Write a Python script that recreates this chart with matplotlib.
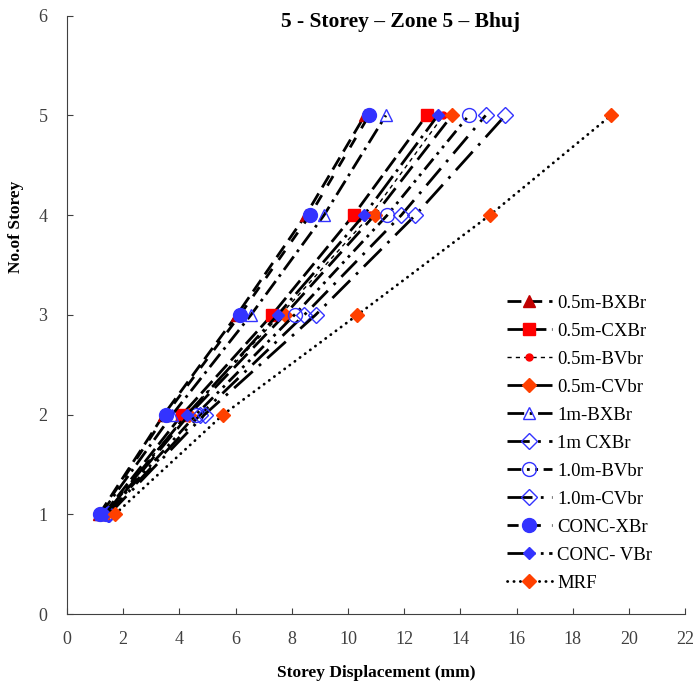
import matplotlib
matplotlib.use('Agg')
import matplotlib.pyplot as plt

plt.rcParams['font.family'] = ['Liberation Serif', 'DejaVu Serif']

# storey levels and displacements (mm) for each bracing case
storeys = [1, 2, 3, 4, 5]
disp_05_bxbr = [1.15, 3.45, 6.05, 8.5, 10.6]
disp_05_cxbr = [1.3, 4.1, 7.3, 10.2, 12.8]
disp_05_bvbr = [1.35, 4.25, 7.6, 10.8, 13.4]
disp_05_cvbr = [1.4, 4.35, 7.75, 10.95, 13.7]
disp_1_bxbr = [1.2, 3.75, 6.55, 9.15, 11.35]
disp_1_cxbr = [1.45, 4.75, 8.45, 11.9, 14.9]
disp_1_bvbr = [1.4, 4.6, 8.1, 11.4, 14.3]
disp_1_cvbr = [1.5, 4.9, 8.85, 12.4, 15.6]
disp_conc_xbr = [1.17, 3.52, 6.16, 8.65, 10.75]
disp_conc_vbr = [1.35, 4.27, 7.5, 10.57, 13.2]
disp_mrf = [1.71, 5.56, 10.34, 15.05, 19.36]

x_ticks = list(range(0, 23, 2))
y_ticks = list(range(0, 7))

blue = '#3333FF'
red = '#FF0000'
orange = '#FF4000'
darkred = '#C00000'

long_dash = (0, (5, 2.5))
long_dash_dot = (0, (6, 2, 1, 2))
dash_dot_dot = (0, (5, 2, 1, 2, 1, 2))

series = [
    ('0.5m-BXBr', disp_05_bxbr, dict(ls=long_dash, marker='^', ms=8, mfc=darkred, mec=darkred)),
    ('0.5m-CXBr', disp_05_cxbr, dict(ls=(0, (6, 2)), marker='s', ms=9, mfc=red, mec=red)),
    ('0.5m-BVbr', disp_05_bvbr, dict(ls=(0, (3, 3)), lw=1.0, marker='o', ms=5, mfc=red, mec=red)),
    ('0.5m-CVbr', disp_05_cvbr, dict(ls=(0, (7, 3)), marker='D', ms=7, mfc=orange, mec=orange)),
    ('1m-BXBr', disp_1_bxbr, dict(ls=long_dash_dot, marker='^', ms=9, mfc='none', mec=blue)),
    ('1m CXBr', disp_1_cxbr, dict(ls=(0, (8, 3, 1, 3)), marker='D', ms=8, mfc='none', mec=blue)),
    ('1.0m-BVbr', disp_1_bvbr, dict(ls=dash_dot_dot, marker='o', ms=10, mfc='none', mec=blue)),
    ('1.0m-CVbr', disp_1_cvbr, dict(ls=(0, (9, 3, 1, 3)), marker='D', ms=8, mfc='none', mec=blue)),
    ('CONC-XBr', disp_conc_xbr, dict(ls=(0, (4, 4)), marker='o', ms=10, mfc=blue, mec=blue)),
    ('CONC- VBr', disp_conc_vbr, dict(ls=(0, (10, 2, 1, 2)), marker='D', ms=6.5, mfc=blue, mec=blue)),
    ('MRF', disp_mrf, dict(ls=(0, (0.1, 2.2)), dash_capstyle='round', marker='D', ms=7, mfc=orange, mec=orange)),
]

fig = plt.figure(figsize=(6.97, 6.83), dpi=100)
ax = fig.add_axes([0.096, 0.101, 0.887, 0.876])

for label, disp, style in series:
    kw = dict(color='black', lw=2.0)
    kw.update(style)
    ax.plot(disp, storeys, label=label, **kw)

ax.set_xlim(0, 22)
ax.set_ylim(0, 6)
ax.set_xticks(x_ticks)
ax.set_yticks(y_ticks)
ax.tick_params(direction='in', length=4, labelsize=13, colors='#404040', pad=12)
ax.tick_params(axis='y', pad=14)
for side in ['top', 'right']:
    ax.spines[side].set_visible(False)
for side in ['left', 'bottom']:
    ax.spines[side].set_color('#404040')

ax.set_xlabel('Storey Displacement (mm)', fontsize=12.5, fontweight='bold')
ax.set_ylabel('No.of Storey', fontsize=12.5, fontweight='bold')
ax.xaxis.set_label_coords(0.5, -0.085)
ax.yaxis.set_label_coords(-0.07, 0.647)

ax.text(0.54, 0.99, '5 - Storey \u2013 Zone 5 \u2013 Bhuj', transform=ax.transAxes,
        ha='center', va='center', fontsize=15.5, fontweight='bold')

ax.legend(loc='lower right', bbox_to_anchor=(0.965, 0.018), frameon=False, fontsize=13.5,
          handlelength=2.4, labelspacing=0.58, handletextpad=0.3, borderaxespad=0.2)

fig.savefig('out.png', dpi=100)
